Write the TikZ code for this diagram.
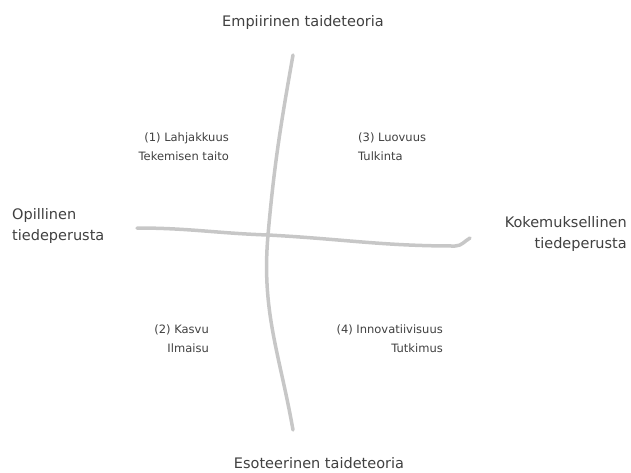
\documentclass[tikz,border=0pt]{standalone}
\usepackage{fontspec}
\setmainfont{DejaVu Sans}
\usetikzlibrary{positioning}

\begin{document}
\begin{tikzpicture}[x=1pt,y=-1pt]
\tikzstyle{ax}=[text=black!75,font=\fontsize{14.5}{21}\selectfont,inner sep=0pt]
\tikzstyle{q}=[text=black!75,font=\fontsize{11.5}{19}\selectfont,inner sep=0pt]
\tikzstyle{hand}=[line width=3.5pt,draw=black!22,line cap=round,line join=round]
\useasboundingbox (0,0) rectangle (631,472);
% otsikot
\node[ax] (emp) at (303,22) {Empiirinen taideteoria};
\node[ax] (eso) at (319,463) {Esoteerinen taideteoria};
\node[ax,anchor=west,align=left] (opi) at (12,226) {Opillinen\\tiedeperusta};
\node[ax,anchor=east,align=right] (kok) at (627,234) {Kokemuksellinen\\tiedeperusta};
% nelikentta
\node[q,anchor=east,align=right] (q1) at (229,147) {(1) Lahjakkuus\\Tekemisen taito};
\node[q,anchor=west,align=left] (q3) at (358,147) {(3) Luovuus\\Tulkinta};
\node[q,anchor=east,align=right] (q2) at (209,339) {(2) Kasvu\\Ilmaisu};
\node[q,anchor=east,align=right] (q4) at (443,339) {(4) Innovatiivisuus\\Tutkimus};
% akselit
\coordinate (top) at (293,55);
\coordinate (bot) at (293,430);
\coordinate (lft) at (137,228);
\coordinate (rgt) at (470,238);
\draw[hand] (top) to[out=-100,in=85] (268,235) to[out=-95,in=100] (bot);
\draw[hand] (lft) to[out=0,in=178] (268,235) to[out=-3,in=180] (455,246) to[out=0,in=-150] (rgt);
\end{tikzpicture}
\end{document}
